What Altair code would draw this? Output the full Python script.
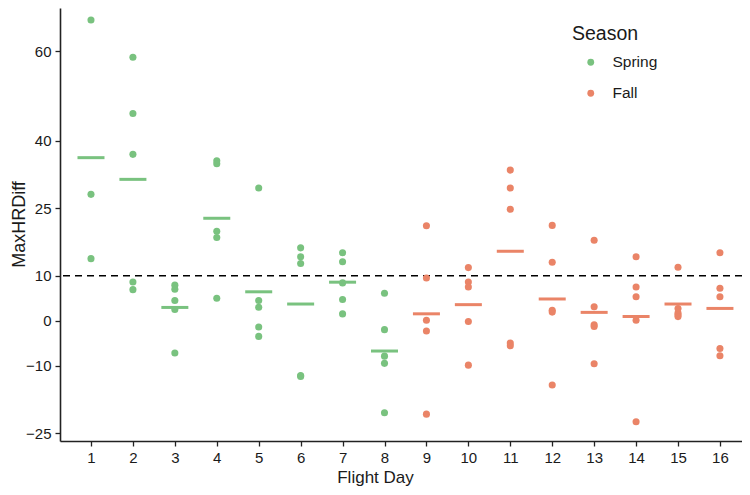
import altair as alt
import pandas as pd

# ---- data ----
flight_days = list(range(1, 17))
day_seasons = ["Spring"] * 8 + ["Fall"] * 8
values_by_day = [
    [66.9, 28.1, 13.8],                 # 1
    [58.6, 46.1, 37.0, 8.6, 6.9],       # 2
    [7.9, 7.0, 4.5, 2.5, -7.2],         # 3
    [35.6, 34.9, 19.9, 18.5, 5.0],      # 4
    [29.5, 4.5, 3.0, -1.4, -3.5],       # 5
    [16.2, 14.2, 12.7, -12.2, -12.4],   # 6
    [15.1, 13.1, 8.4, 4.7, 1.5],        # 7
    [6.1, -2.0, -7.9, -9.5, -20.5],     # 8
    [21.1, 9.5, 0.1, -2.3, -20.8],      # 9
    [11.8, 8.6, 7.5, -0.2, -9.9],       # 10
    [33.5, 29.5, 24.8, -5.0, -5.6],     # 11
    [21.2, 13.0, 2.3, 1.9, -14.3],      # 12
    [17.9, 3.1, -0.9, -1.3, -9.6],      # 13
    [14.2, 7.5, 5.3, 0.1, -22.5],       # 14
    [11.9, 2.7, 1.7, 1.3, 0.9],         # 15
    [15.1, 7.2, 5.3, -6.2, -7.8],       # 16
]
y_ticks = [-25, -10, 0, 10, 25, 40, 60]
threshold = [10]
season_order = ["Spring", "Fall"]
season_colors = ["#79c27f", "#ea8467"]

rows = []
for d, s, vals in zip(flight_days, day_seasons, values_by_day):
    for v in vals:
        rows.append({"FlightDay": d, "Season": s, "MaxHRDiff": v})
df = pd.DataFrame(rows)
thr = pd.DataFrame({"y": threshold})

FONT = "Liberation Sans"

x_enc = alt.X(
    "FlightDay:Q",
    scale=alt.Scale(domain=[0.261, 16.526], nice=False, zero=False),
    axis=alt.Axis(
        values=flight_days, format="d", title="Flight Day",
        titleX=315, titleY=41.5, titleBaseline="alphabetic", titleAlign="center",
        titleFontSize=17,
    ),
)
y_enc = alt.Y(
    "MaxHRDiff:Q",
    scale=alt.Scale(domain=[-26.78, 69.57], nice=False, zero=False),
    axis=alt.Axis(
        values=y_ticks, title="MaxHRDiff",
        titleX=-36, titleY=216, titleAngle=270, titleBaseline="alphabetic",
        titleAlign="center",
    ),
)
color_scale = alt.Scale(domain=season_order, range=season_colors)

points = alt.Chart(df).mark_circle(size=50, opacity=1).encode(
    x=x_enc,
    y=y_enc,
    color=alt.Color(
        "Season:N", scale=color_scale, sort=season_order,
        legend=alt.Legend(
            title="Season", orient="none", legendX=512, legendY=17,
            symbolType="circle", symbolSize=46, symbolOffset=11,
            labelOffset=14, rowPadding=14, titlePadding=10, padding=0,
        ),
    ),
)

means = alt.Chart(df).mark_tick(orient="horizontal", size=27, thickness=3, opacity=1).encode(
    x=alt.X("FlightDay:Q"),
    y=alt.Y("mean(MaxHRDiff):Q"),
    color=alt.Color("Season:N", scale=color_scale, legend=None),
)

rule = alt.Chart(thr).mark_rule(color="black", strokeWidth=1.6, strokeDash=[7, 5]).encode(
    y=alt.Y("y:Q")
)

chart = alt.layer(rule, points, means).properties(
    width=682, height=433,
    autosize=alt.AutoSizeParams(type="none"),
    padding={"left": 52, "top": 0, "right": 0, "bottom": 46},
).configure_view(
    stroke=None
).configure_axis(
    grid=False,
    domainColor="#222222", domainWidth=1.6,
    tickColor="#222222", tickWidth=1.3, tickSize=5,
    labelFont=FONT, labelFontSize=15, labelColor="#1a1a1a", labelPadding=4,
    titleFont=FONT, titleFontSize=18, titleFontWeight="normal", titleColor="#1a1a1a",
).configure_axisX(
    labelPadding=4,
).configure_legend(
    titleFont=FONT, titleFontSize=19.5, titleFontWeight="normal", titleColor="#1a1a1a",
    labelFont=FONT, labelFontSize=15.5, labelColor="#1a1a1a",
)

chart.save("out.html", embed_options={"renderer": "svg", "actions": False})
